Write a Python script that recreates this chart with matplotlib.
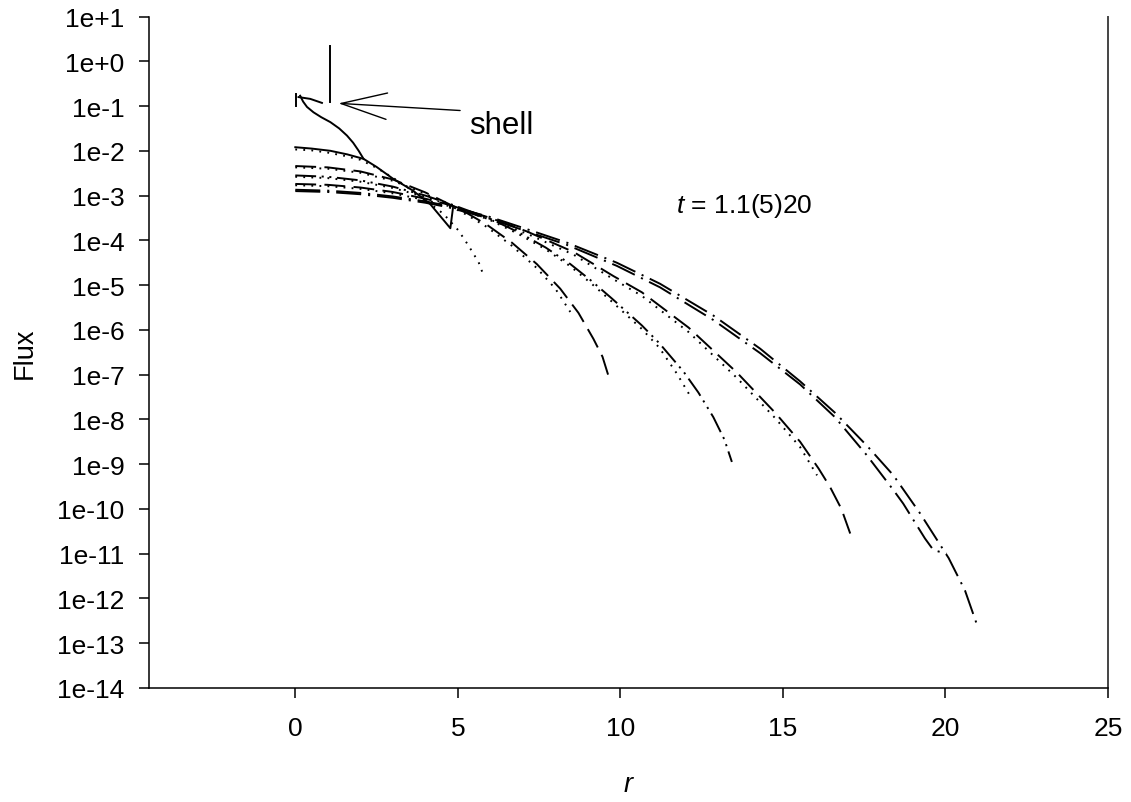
import numpy as np
import matplotlib
matplotlib.use("Agg")
import matplotlib.pyplot as plt
from matplotlib.ticker import FixedLocator, FuncFormatter

plt.rcParams['font.family'] = ['Liberation Sans', 'DejaVu Sans']
plt.rcParams['mathtext.fontset'] = 'custom'
plt.rcParams['mathtext.rm'] = 'Liberation Sans'
plt.rcParams['mathtext.it'] = 'Liberation Sans:italic'
plt.rcParams['lines.scale_dashes'] = False

# ---------------- data (r, log10 flux) ----------------
shell_r = [0.15, 0.24, 0.36, 0.56, 0.8, 1.08, 1.35, 1.59, 1.78, 1.95, 2.1]
shell_L = [-0.77, -0.9, -1.02, -1.14, -1.25, -1.36, -1.5, -1.66, -1.82, -2.0, -2.18]
shell_top_r = [0.1, 0.46, 0.82]
shell_top_L = [-0.80, -0.84, -0.93]
spike_r = [1.08, 1.08]
spike_L = [0.34, -0.91]
mark_r = [0.02, 0.02]
mark_L = [-0.74, -1.0]

g1_solid_r = [0, 0.5, 1.08, 1.6, 2.1, 2.5, 3.0, 3.6, 4.15, 4.77, 4.85]
g1_solid_L = [-1.92, -1.95, -2.0, -2.08, -2.18, -2.36, -2.62, -2.88, -3.19, -3.73, -3.28]
g1_dot_r = [0, 0.5, 1.0, 1.5, 2.0, 2.5, 3.0, 3.5, 4.0, 4.56, 5.02, 5.33, 5.64, 5.81]
g1_dot_L = [-1.97, -1.99, -2.04, -2.11, -2.2, -2.38, -2.6, -2.84, -3.1, -3.41, -3.78, -4.12, -4.49, -4.82]

g2_long_r = [0, 1, 2, 3, 4, 4.7, 5.3, 5.89, 6.66, 7.43, 8.15, 8.71, 9.17, 9.45, 9.66]
g2_long_L = [-2.34, -2.37, -2.46, -2.64, -2.93, -3.18, -3.4, -3.65, -4.05, -4.53, -5.08, -5.62, -6.2, -6.6, -7.09]
g2_short_r = [0, 1, 2, 3, 4, 4.7, 5.3, 5.89, 6.66, 7.43, 8.0, 8.46]
g2_short_L = [-2.37, -2.40, -2.49, -2.67, -2.96, -3.21, -3.44, -3.70, -4.12, -4.62, -5.08, -5.6]

g3_long_r = [0, 1, 2, 3, 4, 4.7, 6, 6.87, 7.7, 8.46, 9.1, 9.74, 10.66, 11.2, 11.94, 12.4, 12.86, 13.2, 13.43]
g3_long_L = [-2.55, -2.58, -2.66, -2.8, -3.0, -3.17, -3.52, -3.82, -4.16, -4.53, -4.9, -5.3, -5.9, -6.3, -6.93, -7.4, -7.95, -8.45, -8.95]
g3_short_r = [0, 1, 2, 3, 4, 4.7, 6, 6.87, 7.7, 8.46, 9.1, 9.74, 10.66, 11.2, 11.74, 12.2]
g3_short_L = [-2.58, -2.61, -2.69, -2.83, -3.03, -3.2, -3.55, -3.86, -4.2, -4.58, -4.96, -5.37, -5.98, -6.4, -6.98, -7.54]

g4_long_r = [0, 1, 2, 3, 4, 4.7, 6, 7.12, 8.56, 9.79, 10.66, 12.1, 13.58, 14.76, 15.53, 16.1, 16.45, 16.8, 17.09]
g4_long_L = [-2.74, -2.76, -2.82, -2.92, -3.07, -3.2, -3.5, -3.8, -4.26, -4.8, -5.16, -5.95, -6.95, -7.85, -8.5, -9.1, -9.51, -10.0, -10.59]
g4_short_r = [0, 1, 2, 3, 4, 4.7, 6, 7.12, 8.56, 9.79, 10.66, 12.1, 13.58, 14.76, 15.53, 16.05]
g4_short_L = [-2.77, -2.79, -2.85, -2.95, -3.1, -3.23, -3.54, -3.85, -4.32, -4.87, -5.24, -6.05, -7.07, -7.97, -8.62, -9.25]

g5_long_r = [0, 1, 2, 3, 4, 4.7, 6, 7, 8.35, 9.89, 11.22, 12.86, 14.3, 15.53, 16.6, 17.6, 18.4, 19.22, 20.1, 20.6, 21.01]
g5_long_L = [-2.87, -2.89, -2.94, -3.02, -3.13, -3.23, -3.48, -3.72, -4.05, -4.5, -4.97, -5.68, -6.42, -7.15, -7.85, -8.6, -9.25, -10.1, -11.1, -11.82, -12.67]
g5_short_r = [0, 1, 2, 3, 4, 4.7, 6, 7, 8.35, 9.89, 11.22, 12.86, 14.3, 15.53, 16.6, 17.58, 18.4, 18.7, 19.37, 19.63, 20.04]
g5_short_L = [-2.9, -2.92, -2.97, -3.05, -3.16, -3.26, -3.52, -3.77, -4.1, -4.57, -5.05, -5.78, -6.52, -7.22, -7.95, -8.8, -9.58, -9.88, -10.66, -10.92, -11.0]

ytick_exps = list(range(1, -15, -1))
xticks = [0, 5, 10, 15, 20, 25]

# ---------------- figure ----------------
fig = plt.figure(figsize=(11.31, 8.03), dpi=100)
ax = fig.add_axes([149/1131, 1 - 689/803, (1108 - 149)/1131, (689 - 17.5)/803])

lw = 1.4
DOT = (0, (1.3, 4.5))
DASH = (0, (15, 6))
DASHDOT = (0, (18, 5, 1.5, 5))
DASHDOTDOT = (0, (15, 4, 1.5, 4, 1.5, 4))

def plot(r, L, ls):
    ax.plot(r, 10.0 ** np.asarray(L), color='black', lw=lw, linestyle=ls)

plot(shell_r, shell_L, '-')
plot(shell_top_r, shell_top_L, '-')
plot(spike_r, spike_L, '-')
plot(mark_r, mark_L, '-')
plot(g1_solid_r, g1_solid_L, '-')
plot(g1_dot_r, g1_dot_L, DOT)
plot(g2_long_r, g2_long_L, DASH)
plot(g2_short_r, g2_short_L, DOT)
plot(g3_long_r, g3_long_L, DASHDOTDOT)
plot(g3_short_r, g3_short_L, DOT)
plot(g4_long_r, g4_long_L, DASH)
plot(g4_short_r, g4_short_L, DOT)
plot(g5_long_r, g5_long_L, DASHDOT)
plot(g5_short_r, g5_short_L, DASHDOT)

ax.set_yscale('log')
ax.set_xlim(-4.5, 25)
ax.set_ylim(1e-14, 1e1)
ax.yaxis.set_major_locator(FixedLocator([10.0 ** e for e in ytick_exps]))
ax.yaxis.set_minor_locator(FixedLocator([]))
ax.yaxis.set_major_formatter(FuncFormatter(lambda v, p: "1e%+d" % int(round(np.log10(v)))))
ax.xaxis.set_major_locator(FixedLocator(xticks))
ax.xaxis.set_major_formatter(FuncFormatter(lambda v, p: "%d" % v))

ax.spines['top'].set_visible(False)
ax.spines['right'].set_color('#444444')
ax.spines['right'].set_linewidth(1.4)
ax.spines['left'].set_linewidth(1.1)
ax.spines['bottom'].set_linewidth(1.1)
ax.tick_params(axis='both', direction='out', length=7.5, width=1.1, labelsize=19, color='black')
ax.tick_params(axis='x', pad=13)
ax.tick_params(axis='y', pad=10)
ax.tick_params(right=False, top=False)

ax.set_xlabel('r', fontsize=19.5, style='italic', labelpad=22)
ax.set_ylabel('Flux', fontsize=19.5, labelpad=14)

ax.text(11.7, 10 ** -3.22, r'$t$ = 1.1(5)20', fontsize=19, va='center', ha='left')
ax.text(5.35, 10 ** -1.42, 'shell', fontsize=22.5, va='center', ha='left')
ax.annotate('', xy=(1.33, 10 ** -0.94), xytext=(5.07, 10 ** -1.10),
            arrowprops=dict(arrowstyle='->,head_length=3.3,head_width=0.95',
                            color='black', lw=1.0, shrinkA=0, shrinkB=0,
                            mutation_scale=10))

fig.savefig('out.png', dpi=100)
